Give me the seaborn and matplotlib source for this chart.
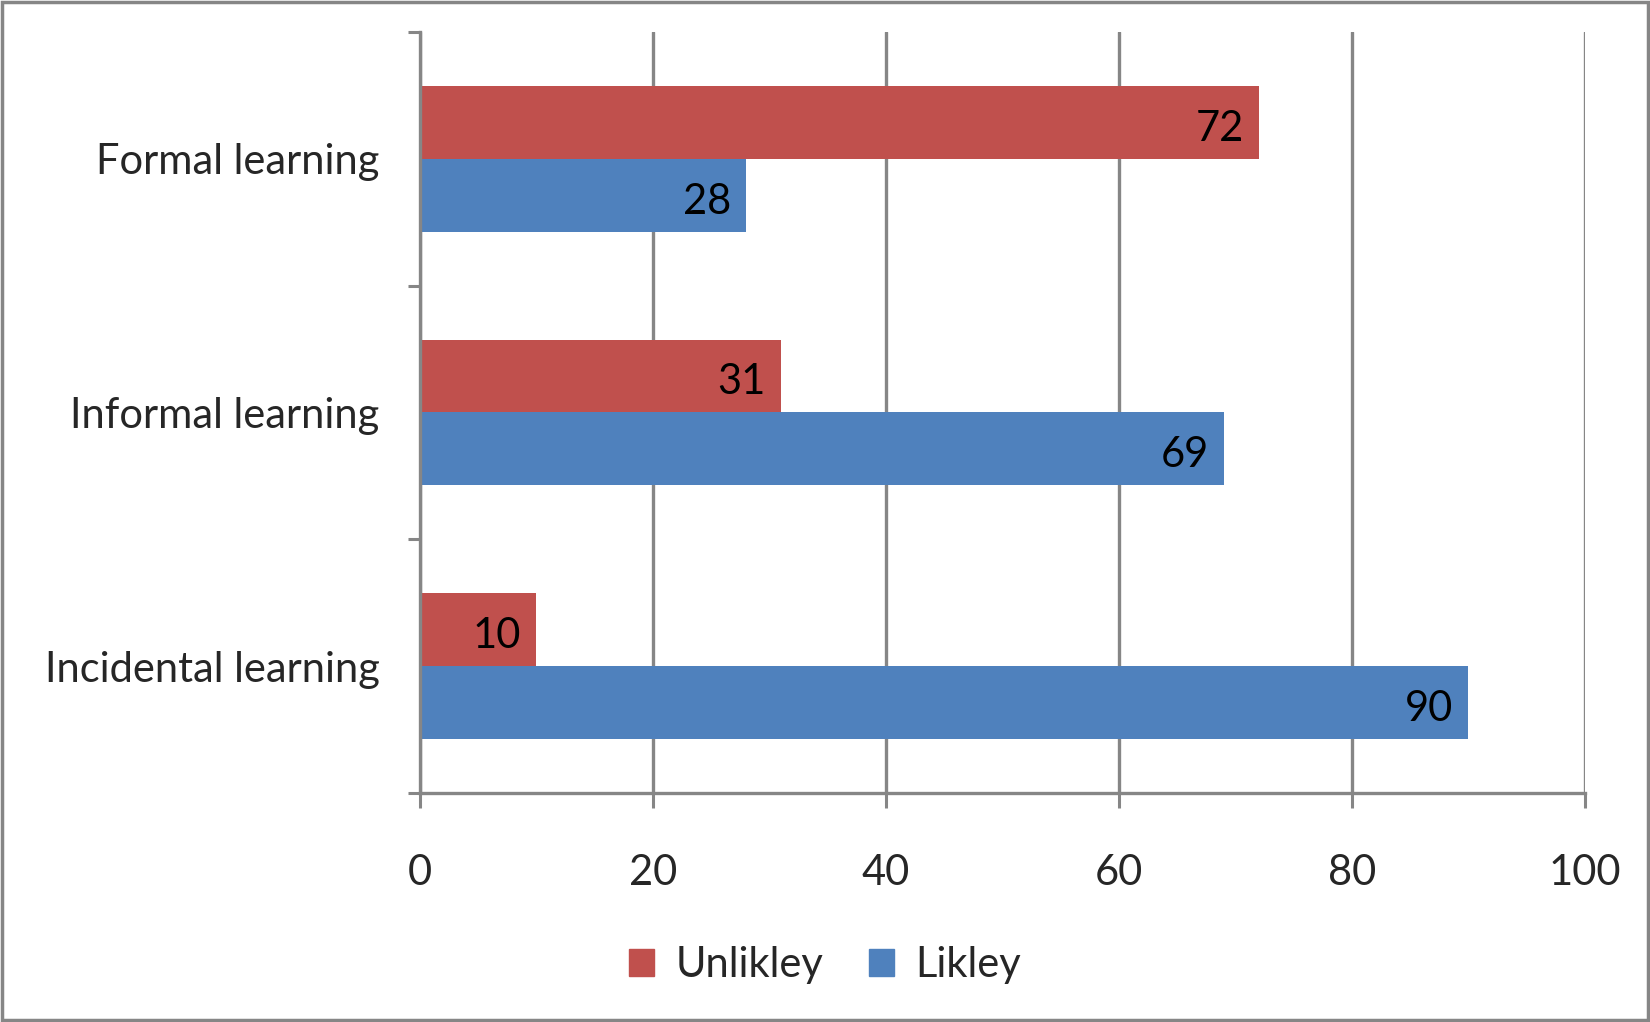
import matplotlib
matplotlib.use("Agg")
import matplotlib.pyplot as plt
import matplotlib.patches as mpatches
from matplotlib.ticker import FixedLocator
import pandas as pd
import seaborn as sns

categories = ["Formal learning", "Informal learning", "Incidental learning"]
series_names = ["Unlikley", "Likley"]
unlikley = [72, 31, 10]
likley = [28, 69, 90]
x_ticks = [0, 20, 40, 60, 80, 100]

colors = {"Unlikley": "#C0504D", "Likley": "#4F81BD"}
axis_gray = "#868686"

sns.set_theme(style="white")
plt.rcParams["font.family"] = ["Lato", "DejaVu Sans"]

df = pd.DataFrame({
    "category": categories * 2,
    "series": [series_names[0]] * 3 + [series_names[1]] * 3,
    "value": unlikley + likley,
})

fig = plt.figure(figsize=(16.5, 10.22), dpi=100)
ax = fig.add_axes([0.2545, 0.2241, 0.9606 - 0.2545, 0.9687 - 0.2241])

sns.barplot(data=df, y="category", x="value", hue="series",
            order=categories, hue_order=series_names, palette=colors,
            orient="h", width=0.575, gap=0, saturation=1, errorbar=None,
            linewidth=0, ax=ax, legend=False)

ax.set_xlim(0, 100)
ax.set_ylim(2.5, -0.5)
ax.set_xlabel("")
ax.set_ylabel("")

fs = 30
ax.set_xticks(x_ticks)
ax.set_xticklabels([str(t) for t in x_ticks], fontsize=fs)
ax.tick_params(axis="x", length=15 * 0.72, width=2.2, color=axis_gray,
               pad=33, direction="out", bottom=True)

ax.set_yticks(range(len(categories)))
ax.set_yticklabels(categories, fontsize=fs)
ax.yaxis.set_minor_locator(FixedLocator([-0.5, 0.5, 1.5, 2.5]))
ax.tick_params(axis="y", which="major", length=0, pad=29)
ax.tick_params(axis="y", which="minor", length=12 * 0.72, width=2.2,
               color=axis_gray, direction="out", left=True)

ax.grid(axis="x", color=axis_gray, linewidth=2.4)
ax.grid(axis="y", visible=False)
ax.set_axisbelow(True)

for side in ["top", "right"]:
    ax.spines[side].set_visible(False)
for side in ["left", "bottom"]:
    ax.spines[side].set_color(axis_gray)
    ax.spines[side].set_linewidth(2.4)
    ax.spines[side].set_zorder(3)

# value labels inside the end of each bar
for container in ax.containers:
    for bar in container:
        w = bar.get_width()
        ax.text(w - 1.3, bar.get_y() + bar.get_height() / 2 + 0.025,
                f"{w:g}", ha="right", va="center", fontsize=fs,
                color="black", zorder=4)

handles = [mpatches.Patch(color=colors[s], label=s) for s in series_names]
fig.legend(handles=handles, loc="center", bbox_to_anchor=(0.5, 1 - 965 / 1022),
           ncol=2, frameon=False, fontsize=fs, handlelength=0.6,
           handleheight=0.6, handletextpad=0.5, columnspacing=1.1)

# outer frame of the chart area
fig.patches.append(mpatches.Rectangle((0.0015, 0.002), 0.997, 0.996,
                                      transform=fig.transFigure, fill=False,
                                      edgecolor=axis_gray, linewidth=2.5))

fig.savefig("out.png", dpi=100, facecolor="white")
